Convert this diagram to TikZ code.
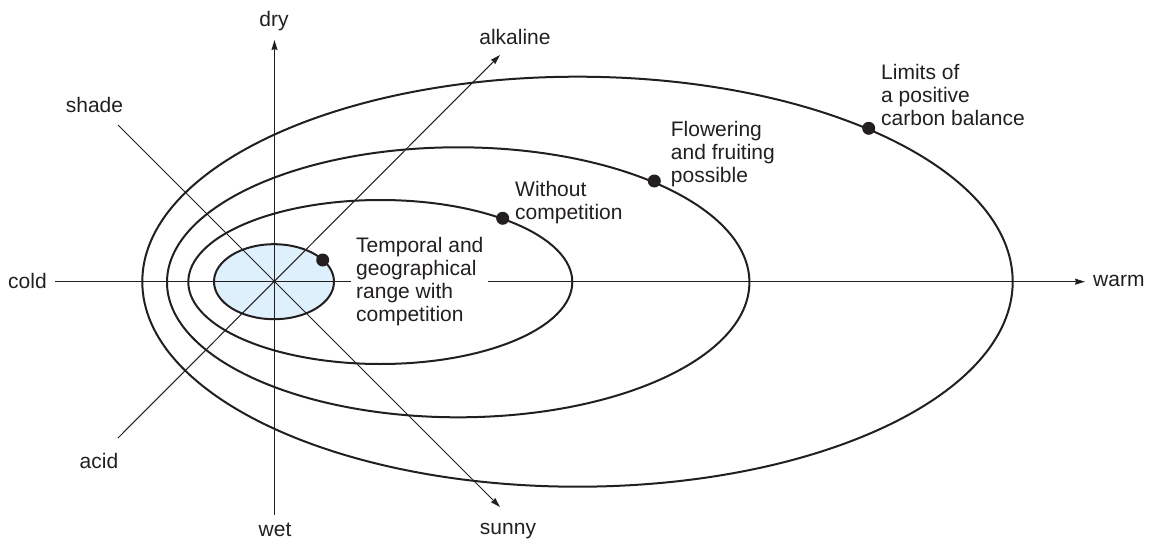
\documentclass[tikz,border=0pt]{standalone}
\usepackage{fontspec}
\setmainfont{Liberation Sans}
\usetikzlibrary{arrows.meta}
\definecolor{ink}{HTML}{231F20}
\definecolor{rangeblue}{RGB}{221,240,251}
\begin{document}
\begin{tikzpicture}[x=1pt,y=-1pt,
  axis/.style={draw=ink, line width=1.05pt, -{Stealth[length=10pt,width=6pt,inset=1pt]}},
  zone/.style={draw=ink, line width=2pt},
  lbl/.style={text=ink, font=\fontsize{21}{23}\selectfont, inner sep=0pt},
  blk/.style={lbl, align=left, anchor=north west},
  dot/.style={circle, fill=ink, minimum size=13pt, inner sep=0pt}]
\useasboundingbox (0,0) rectangle (1157,546);
\coordinate (O) at (274.5,281.7);
\coordinate (coldEnd) at (55,281.7);
\coordinate (warmEnd) at (1085,281.7);
\coordinate (dryEnd) at (274.5,40);
\coordinate (wetEnd) at (274.5,515);
\coordinate (shadeEnd) at (118,125);
\coordinate (sunnyEnd) at (500,507);
\coordinate (acidEnd) at (118,438);
\coordinate (alkEnd) at (500,55);
% range
\fill[rangeblue] (274,281.7) ellipse [x radius=60pt, y radius=37.5pt];
% axes
\draw[axis] (coldEnd) -- (warmEnd);
\draw[axis] (wetEnd) -- (dryEnd);
\draw[axis] (shadeEnd) -- (sunnyEnd);
\draw[axis] (acidEnd) -- (alkEnd);
% zones
\draw[zone] (274,281.7) ellipse [x radius=60pt, y radius=37.5pt];
\draw[zone] (380.3,282) ellipse [x radius=192pt, y radius=82pt];
\draw[zone] (458.2,282.3) ellipse [x radius=291.2pt, y radius=135pt];
\draw[zone] (577.5,281.7) ellipse [x radius=435.2pt, y radius=205pt];
% labels
\node[blk, fill=white, inner xsep=5pt, inner ysep=3pt] (range) at (351,234.5) {Temporal and\\geographical\\range with\\competition};
\node[dot] (d1) at (322.7,260) {};
\node[dot] (d2) at (502.7,218.3) {};
\node[dot] (d3) at (654.3,181) {};
\node[dot] (d4) at (868.7,128.3) {};
\node[blk] (wc) at (515,181.2) {Without\\competition};
\node[blk] (fl) at (670.7,121.2) {Flowering\\and fruiting\\possible};
\node[blk] (lim) at (881,64.5) {Limits of\\a positive\\carbon balance};
\node[lbl] (dry) at (274,21.5) {dry};
\node[lbl] (wet) at (275,530) {wet};
\node[lbl] (alk) at (515,36.5) {alkaline};
\node[lbl] (shade) at (94.5,105) {shade};
\node[lbl] (acid) at (99,461) {acid};
\node[lbl, anchor=west] (cold) at (8,281) {cold};
\node[lbl, anchor=west] (warm) at (1093,281) {warm};
\node[lbl] (sunny) at (508,531) {sunny};
\end{tikzpicture}
\end{document}
